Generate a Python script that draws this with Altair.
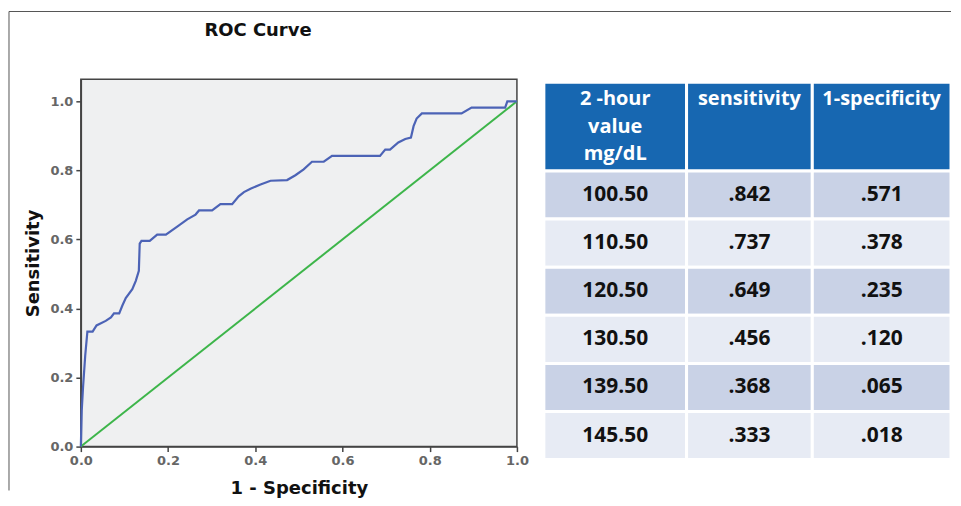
import altair as alt
import pandas as pd

# ---------------- data ----------------
FPR = [0.000, 0.002, 0.005, 0.010, 0.015, 0.027, 0.036, 0.057, 0.069, 0.076,
       0.088, 0.095, 0.103, 0.118, 0.126, 0.133, 0.135, 0.139, 0.158, 0.175,
       0.195, 0.221, 0.244, 0.263, 0.271, 0.301, 0.320, 0.347, 0.362, 0.374,
       0.389, 0.412, 0.435, 0.473, 0.492, 0.511, 0.530, 0.557, 0.576, 0.686,
       0.698, 0.709, 0.728, 0.744, 0.757, 0.763, 0.770, 0.782, 0.873, 0.896,
       0.973, 0.978, 1.000]
TPR = [0.000, 0.104, 0.171, 0.263, 0.333, 0.333, 0.351, 0.364, 0.374, 0.386,
       0.386, 0.408, 0.430, 0.456, 0.480, 0.509, 0.588, 0.596, 0.596, 0.614,
       0.614, 0.637, 0.658, 0.672, 0.684, 0.684, 0.702, 0.702, 0.725, 0.737,
       0.747, 0.759, 0.770, 0.772, 0.786, 0.803, 0.825, 0.825, 0.842, 0.842,
       0.860, 0.860, 0.881, 0.891, 0.895, 0.928, 0.950, 0.965, 0.965, 0.982,
       0.982, 1.000, 1.000]
DIAG = [0.0, 1.0]

HEADERS = ["2 -hour\nvalue\nmg/dL", "sensitivity", "1-specificity"]
CUTOFFS = ["100.50", "110.50", "120.50", "130.50", "139.50", "145.50"]
SENS = [".842", ".737", ".649", ".456", ".368", ".333"]
ONE_MINUS_SPEC = [".571", ".378", ".235", ".120", ".065", ".018"]

# ---------------- layout / style constants ----------------
COL_EDGES = [0, 143, 269, 408]          # table column edges (px units of table x-scale)
HEADER_TOP = -1.846                     # header top in row units
HEADER_TEXT_Y = -1.70
BLUE = "#4C63B6"
GREEN = "#3DB54A"
HEAD_FILL = "#1767B1"
DARK_ROW = "#C9D2E6"
LIGHT_ROW = "#E7EBF4"
FONT = "DejaVu Sans"
TFONT = "Open Sans"

# ---------------- ROC chart ----------------
roc = pd.DataFrame({"fpr": FPR, "tpr": TPR, "idx": list(range(len(FPR)))})
diag = pd.DataFrame({"fpr": DIAG, "tpr": DIAG})

xs = alt.Scale(domain=[0, 1], nice=False, zero=False)
ys = alt.Scale(domain=[0, 1.0636], nice=False, zero=False)

x_axis = alt.Axis(values=[0, 0.2, 0.4, 0.6, 0.8, 1.0], format=".1f", title="1 - Specificity",
                  grid=False, tickSize=5, tickColor="#444", tickWidth=1.5,
                  domainColor="#444", domainWidth=1.5,
                  labelFont=FONT, labelFontWeight="bold", labelFontSize=13, labelColor="#666",
                  labelPadding=3, titleFont=FONT, titleFontWeight="bold", titleFontSize=18,
                  titleColor="#111", titlePadding=12, labelFlush=False)
y_axis = alt.Axis(values=[0, 0.2, 0.4, 0.6, 0.8, 1.0], format=".1f", title="Sensitivity",
                  grid=False, tickSize=5, tickColor="#444", tickWidth=1.5,
                  domainColor="#444", domainWidth=1.5,
                  labelFont=FONT, labelFontWeight="bold", labelFontSize=13, labelColor="#666",
                  labelPadding=3, titleFont=FONT, titleFontWeight="bold", titleFontSize=18,
                  titleColor="#111", titlePadding=7, labelFlush=False)

diag_line = alt.Chart(diag).mark_line(color=GREEN, strokeWidth=2).encode(
    x=alt.X("fpr:Q", scale=xs, axis=x_axis),
    y=alt.Y("tpr:Q", scale=ys, axis=y_axis),
)
roc_line = alt.Chart(roc).mark_line(color=BLUE, strokeWidth=2.2, interpolate="linear").encode(
    x=alt.X("fpr:Q", scale=xs),
    y=alt.Y("tpr:Q", scale=ys),
    order="idx:Q",
)

left = alt.layer(diag_line, roc_line).properties(
    width=437, height=368,
    title=alt.TitleParams("ROC Curve", font=FONT, fontSize=18, fontWeight="bold", color="#111",
                          anchor="middle", dx=-41, offset=39),
    view=alt.ViewBackground(fill="#EFF0F1", stroke="#444", strokeWidth=1.5),
)

# ---------------- table ----------------
cells = []
texts = []
for j in range(3):
    x0, x1 = COL_EDGES[j], COL_EDGES[j + 1]
    cells.append({"x0": x0, "x1": x1, "y0": HEADER_TOP, "y1": 0, "fill": HEAD_FILL})
    texts.append({"xc": (x0 + x1) / 2, "yc": HEADER_TEXT_Y, "t": HEADERS[j]})
cols = [CUTOFFS, SENS, ONE_MINUS_SPEC]
for i in range(len(CUTOFFS)):
    for j in range(3):
        x0, x1 = COL_EDGES[j], COL_EDGES[j + 1]
        cells.append({"x0": x0, "x1": x1, "y0": i, "y1": i + 1,
                      "fill": DARK_ROW if i % 2 == 0 else LIGHT_ROW})
        texts.append({"xc": (x0 + x1) / 2, "yc": i + 0.5, "t": cols[j][i]})
cells = pd.DataFrame(cells)
texts = pd.DataFrame(texts)
hdr = texts.iloc[:3]
body = texts.iloc[3:]

txs = alt.Scale(domain=[0, COL_EDGES[-1]], nice=False, zero=False)
tys = alt.Scale(domain=[-1.905, 6.02], nice=False, zero=False, reverse=True)

rects = alt.Chart(cells).mark_rect(stroke="white", strokeWidth=3).encode(
    x=alt.X("x0:Q", scale=txs, axis=None), x2="x1:Q",
    y=alt.Y("y0:Q", scale=tys, axis=None), y2="y1:Q",
    fill=alt.Fill("fill:N", scale=None),
)
head_text = alt.Chart(hdr).mark_text(font=TFONT, fontSize=20, fontWeight="bold", color="white",
                                      baseline="top", align="center", lineBreak="\n",
                                      lineHeight=27.5).encode(
    x=alt.X("xc:Q", scale=txs), y=alt.Y("yc:Q", scale=tys), text="t:N")
body_text = alt.Chart(body).mark_text(font=TFONT, fontSize=21, fontWeight="bold", color="#111",
                                       baseline="middle", align="center").encode(
    x=alt.X("xc:Q", scale=txs), y=alt.Y("yc:Q", scale=tys), text="t:N")

# outer frame lines (decoration), drawn relative to the table panel
one = pd.DataFrame({"a": [0]})
border_top = alt.Chart(one).mark_rule(color="#555", strokeWidth=1).encode(
    x=alt.value(-536), x2=alt.value(408), y=alt.value(-68))
border_left = alt.Chart(one).mark_rule(color="#555", strokeWidth=1).encode(
    x=alt.value(-536), y=alt.value(-68), y2=alt.value(412))

right = alt.layer(border_top, border_left, rects, head_text, body_text).properties(
    width=408, height=382,
    view=alt.ViewBackground(fill=None, stroke=None),
)

chart = alt.hconcat(left, right, spacing=27, bounds="flush").properties(
    padding={"left": 0, "top": 2, "right": 0, "bottom": 0},
    background="white",
)

chart.save("out.html", embed_options={"renderer": "svg", "actions": False})
